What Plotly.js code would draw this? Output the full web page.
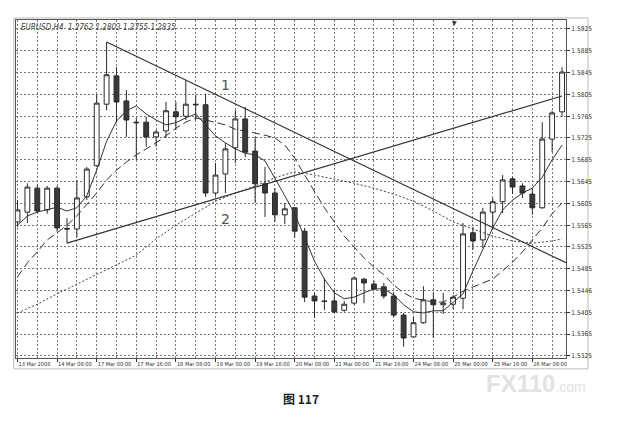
<!DOCTYPE html>
<html>
<head>
<meta charset="utf-8">
<script src="https://cdn.plot.ly/plotly-3.0.1.min.js"></script>
<style>
html,body{margin:0;padding:0;background:#fff;}
#chart{width:622px;height:429px;}
</style>
</head>
<body>
<div id="chart"></div>
<script>
// Bar index (4-hour bars, weekends skipped)
const bars = [0,1,2,3,4,5,6,7,8,9,10,11,12,13,14,15,16,17,18,19,20,21,22,23,24,25,26,27,28,29,30,31,32,33,34,35,36,37,38,39,40,41,42,43,44,45,46,47,48,49,50,51,52,53,54,55];

const openP  = [1.5571,1.5589,1.5633,1.5593,1.5633,1.5559,1.5558,1.5617,1.5674,1.5787,1.5839,1.5793,1.5754,1.5754,1.5727,1.5738,1.5773,1.5765,1.5787,1.5786,1.5624,1.5659,1.5707,1.5760,1.5701,1.5641,1.5624,1.5584,1.5597,1.5554,1.5435,1.5426,1.5426,1.5409,1.5422,1.5466,1.5457,1.5452,1.5435,1.5400,1.5360,1.5386,1.5428,1.5419,1.5420,1.5431,1.5551,1.5538,1.5589,1.5608,1.5650,1.5637,1.5622,1.5597,1.5723,1.5773];
const highP  = [1.5611,1.5642,1.5639,1.5637,1.5637,1.5578,1.5648,1.5672,1.5804,1.5901,1.5855,1.5813,1.5762,1.5764,1.5740,1.5791,1.5791,1.5831,1.5804,1.5806,1.5679,1.5716,1.5776,1.5782,1.5727,1.5672,1.5633,1.5606,1.5598,1.5560,1.5441,1.5468,1.5446,1.5426,1.5470,1.5468,1.5463,1.5459,1.5441,1.5404,1.5397,1.5453,1.5442,1.5441,1.5437,1.5569,1.5562,1.5597,1.5615,1.5657,1.5653,1.5642,1.5633,1.5754,1.5775,1.5855];
const lowP   = [1.5562,1.5569,1.5587,1.5586,1.5553,1.5532,1.5543,1.5611,1.5672,1.5776,1.5753,1.5727,1.5685,1.5709,1.5709,1.5725,1.5740,1.5758,1.5758,1.5617,1.5619,1.5624,1.5679,1.5690,1.5606,1.5580,1.5571,1.5567,1.5542,1.5424,1.5395,1.5409,1.5404,1.5406,1.5419,1.5422,1.5446,1.5430,1.5397,1.5342,1.5358,1.5384,1.5358,1.5402,1.5411,1.5411,1.5520,1.5523,1.5556,1.5587,1.5622,1.5615,1.5584,1.5595,1.5699,1.5764];
const closeP = [1.5593,1.5635,1.5591,1.5633,1.5560,1.5558,1.5615,1.5668,1.5789,1.5841,1.5791,1.5758,1.5753,1.5727,1.5736,1.5775,1.5764,1.5787,1.5786,1.5624,1.5657,1.5705,1.5760,1.5699,1.5641,1.5624,1.5584,1.5595,1.5554,1.5433,1.5426,1.5425,1.5406,1.5420,1.5468,1.5459,1.5448,1.5435,1.5400,1.5358,1.5386,1.5428,1.5419,1.5422,1.5433,1.5549,1.5536,1.5589,1.5608,1.5648,1.5635,1.5624,1.5597,1.5723,1.5771,1.5846];

// Fast moving average (solid), read per bar
const maFast = [1.5565,1.5582,1.5589,1.5593,1.5598,1.5591,1.5597,1.5619,1.5666,1.5719,1.5756,1.5775,1.5784,1.5769,1.5758,1.5749,1.5753,1.5762,1.5769,1.5749,1.5729,1.5716,1.5705,1.5697,1.5694,1.5683,1.5652,1.5619,1.5586,1.5542,1.5499,1.5466,1.5441,1.5430,1.5433,1.5441,1.5448,1.5448,1.5437,1.5419,1.5406,1.5404,1.5408,1.5408,1.5424,1.5439,1.5481,1.5520,1.5560,1.5593,1.5611,1.5624,1.5633,1.5653,1.5685,1.5712];
// Medium moving average (dashed), read per bar
const maMid = [1.5470,1.5496,1.5516,1.5538,1.5551,1.5565,1.5582,1.5602,1.5624,1.5648,1.5666,1.5681,1.5694,1.5705,1.5716,1.5729,1.5743,1.5754,1.5762,1.5758,1.5754,1.5749,1.5741,1.5738,1.5734,1.5730,1.5725,1.5712,1.5688,1.5657,1.5626,1.5597,1.5571,1.5545,1.5525,1.5505,1.5488,1.5474,1.5455,1.5441,1.5431,1.5428,1.5424,1.5424,1.5433,1.5444,1.5452,1.5459,1.5466,1.5481,1.5497,1.5516,1.5538,1.5560,1.5586,1.5606];
// Slow moving average (dotted), read every second bar
const maSlowX = [0,2,4,6,8,10,12,14,16,18,20,22,24,26,28,30,32,34,36,38,40,42,44,46,48,50,52,54,55];
const maSlow  = [1.5404,1.5420,1.5439,1.5457,1.5474,1.5492,1.5510,1.5540,1.5565,1.5587,1.5609,1.5624,1.5637,1.5652,1.5663,1.5657,1.5650,1.5642,1.5633,1.5622,1.5609,1.5591,1.5571,1.5558,1.5545,1.5536,1.5532,1.5536,1.5540];

// Trend lines
const trend1X = [9, 55.4];
const trend1Y = [1.5901, 1.5496];
const trend2X = [5, 55];
const trend2Y = [1.5532, 1.5802];

// Axis ticks
const xTickPos  = [0,4,8,12,16,20,24,28,32,36,40,44,48,52];
const xTickText = ["13 Mar 2008","14 Mar 08:00","17 Mar 00:00","17 Mar 16:00","18 Mar 08:00","19 Mar 00:00","19 Mar 16:00","20 Mar 08:00","21 Mar 00:00","21 Mar 16:00","24 Mar 08:00","25 Mar 00:00","25 Mar 16:00","26 Mar 08:00"];
const yTickPos  = [1.5925,1.5885,1.5845,1.5805,1.5765,1.5725,1.5685,1.5645,1.5605,1.5565,1.5525,1.5485,1.5445,1.5405,1.5365,1.5325];
const yTickText = ["1.5925","1.5885","1.5845","1.5805","1.5765","1.5725","1.5685","1.5645","1.5605","1.5565","1.5525","1.5485","1.5446","1.5405","1.5365","1.5325"];

const ink = '#2b2b2b';
const gridC = '#777777';
const narrow = '"Liberation Sans Narrow", "DejaVu Sans Condensed", "Liberation Sans", sans-serif';
const xTickFont = {family:narrow, size:5.6, color:'#333'};
const yTickFont = {family:narrow, size:6.6, color:'#333'};

const traces = [
  {type:'candlestick', x:bars, open:openP, high:highP, low:lowP, close:closeP,
   increasing:{line:{color:ink,width:1}, fillcolor:'#ffffff'},
   decreasing:{line:{color:ink,width:1}, fillcolor:'#3a3a3a'},
   whiskerwidth:0, hoverinfo:'skip', showlegend:false},
  {type:'scatter', mode:'lines', x:maSlowX, y:maSlow, line:{color:'#444',width:1,dash:'2px,2px'}, hoverinfo:'skip', showlegend:false},
  {type:'scatter', mode:'lines', x:bars, y:maMid, line:{color:'#333',width:1,dash:'8px,4px'}, hoverinfo:'skip', showlegend:false},
  {type:'scatter', mode:'lines', x:bars, y:maFast, line:{color:'#333',width:1}, hoverinfo:'skip', showlegend:false},
  {type:'scatter', mode:'lines', x:trend1X, y:trend1Y, line:{color:'#333',width:1.2}, hoverinfo:'skip', showlegend:false},
  {type:'scatter', mode:'lines', x:trend2X, y:trend2Y, line:{color:'#333',width:1.2}, hoverinfo:'skip', showlegend:false}
];

const layout = {
  width:622, height:429,
  margin:{l:16, r:56, t:20, b:71},
  paper_bgcolor:'#ffffff', plot_bgcolor:'#ffffff',
  showlegend:false,
  xaxis:{
    range:[-0.15,55.4], tickvals:xTickPos, ticktext:xTickText,
    ticklabelposition:'outside right', ticks:'outside', ticklen:3, tickcolor:'#333',
    showgrid:true, gridcolor:gridC, gridwidth:1, griddash:'2px,2px',
    minor:{dtick:2, tick0:0, showgrid:true, gridcolor:gridC, gridwidth:1, griddash:'2px,2px', ticks:''},
    showline:true, linecolor:'#555', linewidth:1, mirror:true, zeroline:false,
    tickfont:xTickFont, tickangle:0, rangeslider:{visible:false}, fixedrange:true
  },
  yaxis:{
    side:'right', range:[1.53213,1.59415], tickvals:yTickPos, ticktext:yTickText,
    ticks:'outside', ticklen:3, tickcolor:'#333',
    showgrid:true, gridcolor:gridC, gridwidth:1, griddash:'2px,2px',
    showline:true, linecolor:'#555', linewidth:1, mirror:true, zeroline:false,
    tickfont:yTickFont, fixedrange:true
  },
  shapes:[
    {type:'rect', xref:'paper', yref:'paper', x0:-0.004, x1:1.04, y0:-0.032, y1:1.006,
     line:{color:'#bbbbbb', width:1}, fillcolor:'rgba(0,0,0,0)', layer:'below'}
  ],
  annotations:[
    {xref:'paper', yref:'paper', x:0.006, y:0.998, xanchor:'left', yanchor:'top', showarrow:false,
     text:'<i>EURUSD,H4  1.2762 1.2803 1.2755 1.2835</i>', font:{family:narrow, size:8, color:'#444'}},
    {x:21, y:1.5823, xref:'x', yref:'y', showarrow:false, text:'1',
     font:{family:'DejaVu Sans, sans-serif', size:14, color:'#555'}},
    {x:21, y:1.5576, xref:'x', yref:'y', showarrow:false, text:'2',
     font:{family:'DejaVu Sans, sans-serif', size:14, color:'#555'}},
    {x:44.1, y:1.5937, xref:'x', yref:'y', showarrow:false, text:'▼',
     font:{family:'DejaVu Sans, sans-serif', size:6, color:'#333'}},
    {xref:'paper', yref:'paper', x:1.04, y:-0.075, xanchor:'right', yanchor:'middle', showarrow:false,
     text:'<b>FX110</b><span style="font-size:14px">.com</span>', font:{family:'Liberation Sans, Arial, sans-serif', size:24, color:'#e2e2e2'}},
    {xref:'paper', yref:'paper', x:0.518, y:-0.12, xanchor:'center', yanchor:'middle', showarrow:false,
     text:'<b>图 117</b>', font:{family:'Noto Sans CJK SC, sans-serif', size:12, color:'#222'}}
  ]
};

Plotly.newPlot('chart', traces, layout, {staticPlot:true, displayModeBar:false});
</script>
</body>
</html>
